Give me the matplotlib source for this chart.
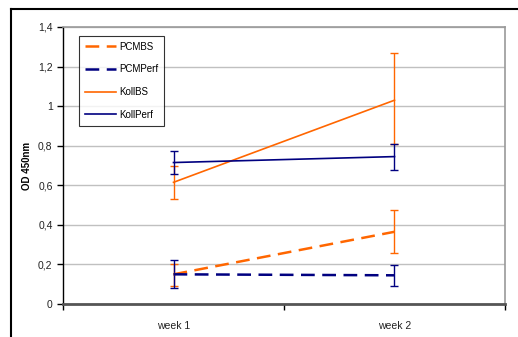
import matplotlib.pyplot as plt
from matplotlib.lines import Line2D
from matplotlib.ticker import FuncFormatter

plt.rcParams['font.family'] = ['Liberation Sans', 'DejaVu Sans']

weeks = ['week 1', 'week 2']
x = [1, 2]

# means and error bounds (lower, upper)
pcmbs = [0.15, 0.365]
pcmbs_lo = [0.09, 0.26]
pcmbs_hi = [0.20, 0.475]

pcmperf = [0.15, 0.145]
pcmperf_lo = [0.082, 0.09]
pcmperf_hi = [0.22, 0.195]

kollbs = [0.615, 1.03]
kollbs_lo = [0.53, 0.81]
kollbs_hi = [0.70, 1.27]

kollperf = [0.715, 0.745]
kollperf_lo = [0.655, 0.675]
kollperf_hi = [0.775, 0.81]

orange = '#FF6600'
navy = '#000080'

fig = plt.figure(figsize=(5.18, 3.37), dpi=100)
ax = fig.add_axes([63/518, 1 - 304/337, 442/518, 277/337])


def yerr(vals, lo, hi):
    return [[v - l for v, l in zip(vals, lo)], [h - v for v, h in zip(vals, hi)]]


series = [
    ('PCMBS', pcmbs, pcmbs_lo, pcmbs_hi, orange, True),
    ('PCMPerf', pcmperf, pcmperf_lo, pcmperf_hi, navy, True),
    ('KollBS', kollbs, kollbs_lo, kollbs_hi, orange, False),
    ('KollPerf', kollperf, kollperf_lo, kollperf_hi, navy, False),
]

handles = []
for name, vals, lo, hi, col, dashed in series:
    ax.errorbar(x, vals, yerr=yerr(vals, lo, hi), fmt='none', ecolor=col,
                elinewidth=1, capsize=3, capthick=1, zorder=3)
    if dashed:
        ln, = ax.plot(x, vals, color=col, lw=1.8, dashes=(5.5, 3), zorder=4, label=name)
    else:
        ln, = ax.plot(x, vals, color=col, lw=1.2, zorder=4, label=name)
    handles.append(ln)

ax.set_xlim(0.5, 2.5)
ax.set_ylim(0, 1.4)
ax.set_yticks([0, 0.2, 0.4, 0.6, 0.8, 1.0, 1.2, 1.4])
ax.yaxis.set_major_formatter(FuncFormatter(lambda v, p: ('%g' % round(v, 1)).replace('.', ',')))
ax.set_xticks(x)
ax.set_xticklabels(weeks)
ax.set_xticks([0.5, 1.5, 2.5], minor=True)
ax.tick_params(axis='x', which='major', length=0, pad=12, labelsize=7.5, colors='#222222')
ax.tick_params(axis='x', which='minor', length=4, width=1, direction='out', color='black')
ax.tick_params(axis='y', length=4, width=1, direction='out', labelsize=7.5, colors='#222222')
ax.tick_params(axis='y', color='black')

ax.grid(axis='y', color='#C0C0C0', lw=1)
ax.set_axisbelow(True)

ax.spines['left'].set_color('black')
ax.spines['left'].set_linewidth(1)
ax.spines['bottom'].set_color('#555555')
ax.spines['bottom'].set_linewidth(2)
ax.spines['top'].set_color('#999999')
ax.spines['right'].set_color('#999999')
ax.spines['right'].set_linewidth(1.2)
ax.spines['top'].set_linewidth(1.2)

ax.set_ylabel('OD 450nm', fontsize=7, fontweight='bold', labelpad=4)

leg = ax.legend(handles=handles, loc='upper left', bbox_to_anchor=(16/442, 1 - 9/277),
                frameon=True, fancybox=False, fontsize=7, handlelength=3.2,
                labelspacing=1.3, borderpad=0.6, handletextpad=0.3, borderaxespad=0)
leg.get_frame().set_edgecolor('black')
leg.get_frame().set_linewidth(0.8)

# outer chart frame
fig.add_artist(Line2D([11/518, 1], [1 - 9/337, 1 - 9/337], color='black', lw=1.5))
fig.add_artist(Line2D([11/518, 11/518], [0, 1 - 9/337], color='black', lw=1.5))

fig.savefig('out.png', dpi=100)
